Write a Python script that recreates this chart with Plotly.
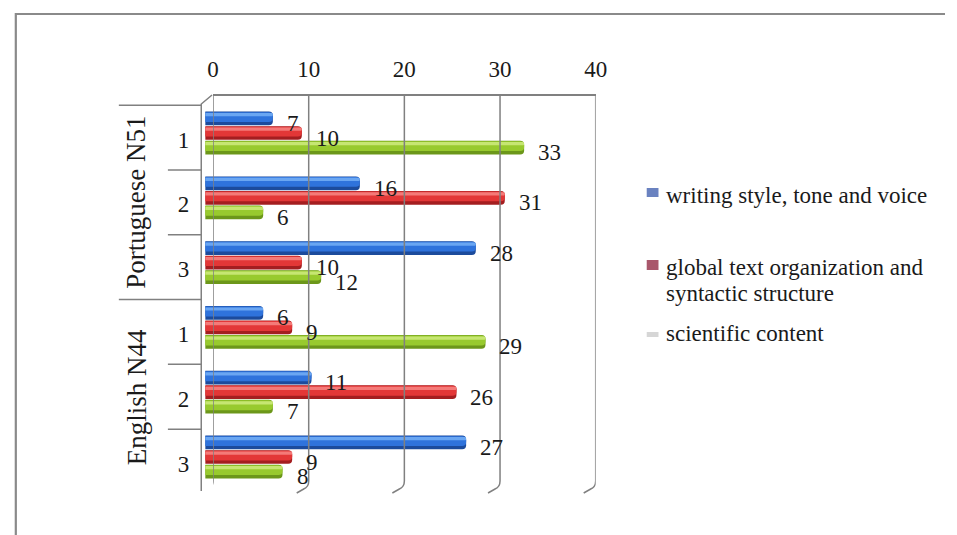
import plotly.graph_objects as go

# ---- data -------------------------------------------------------------
groups = ["Portuguese N51", "English N44"]
subcats = ["1", "2", "3"]
series_names = [
    "writing style, tone and voice",
    "global text organization and",
    "scientific content",
]
writing_style = [7, 16, 28, 6, 11, 27]
global_org = [10, 31, 10, 9, 26, 9]
scientific = [33, 6, 12, 29, 7, 8]
x_ticks = [0, 10, 20, 30, 40]

# ---- page geometry helpers (figure has no margins) ----------------------
W, H = 957, 535


def fx(p):
    return p / W


def fy(p):
    return 1 - p / H


FONT = "Liberation Serif, Times New Roman, serif"
TXT = "#1a1a1a"
GRID = "#808080"
FS = 23

rows = list(range(len(writing_style)))          # P1, P2, P3, E1, E2, E3
offsets = [-0.224, 0.0, 0.224]                   # blue above, green below
series = [writing_style, global_org, scientific]

# dark edge / body / highlight for the cylinder look
palettes = [
    ("#1c4b9c", "#2f73dc", "#6aa6f2"),
    ("#a41e20", "#e33737", "#f47a78"),
    ("#6c971a", "#98ca2e", "#c6e672"),
]
layers = [(0.212, 0.0, 0), (0.152, -0.022, 1), (0.05, -0.06, 2)]

fig = go.Figure()
for vals, off, pal in zip(series, offsets, palettes):
    for width, shift, ci in layers:
        fig.add_trace(go.Bar(
            x=vals,
            y=[r + off + shift for r in rows],
            orientation="h",
            width=width,
            marker=dict(color=pal[ci], line=dict(width=0), cornerradius=4),
            showlegend=False,
            hoverinfo="skip",
        ))

annotations = []
# value labels beside each bar end
for vals, off in zip(series, offsets):
    for r, v in zip(rows, vals):
        annotations.append(dict(
            x=v, y=r + off, xref="x", yref="y", text=str(v),
            showarrow=False, xanchor="left", yanchor="middle",
            xshift=12, yshift=-5,
            font=dict(family=FONT, size=FS, color=TXT),
        ))

# rotated group labels
for gi, g in enumerate(groups):
    annotations.append(dict(
        x=fx(133), y=gi * 3 + 1 + 0.07, xref="paper", yref="y", text=g,
        showarrow=False, textangle=-90, xanchor="center", yanchor="middle",
        font=dict(family=FONT, size=27, color=TXT),
    ))

# legend
legend_marks = [
    ("#6a82c0", 188, 197),
    ("#a9576b", 260, 270),
    ("#d6d6d6", 332, 337),
]
legend_text = [
    (series_names[0], 196),
    (series_names[1], 267),
    ("syntactic structure", 293),
    (series_names[2], 333),
]
for t, yc in legend_text:
    annotations.append(dict(
        x=fx(671), y=fy(yc), xref="paper", yref="paper", text=t,
        showarrow=False, xanchor="left", yanchor="middle",
        font=dict(family=FONT, size=FS, color=TXT),
    ))

shapes = []
for col, y0, y1 in legend_marks:
    shapes.append(dict(type="rect", xref="paper", yref="paper",
                       x0=fx(653), x1=fx(665), y0=fy(y1), y1=fy(y0),
                       fillcolor=col, line=dict(width=0)))

# outer frame (top and left edges)
shapes.append(dict(type="path", xref="paper", yref="paper",
                   path=f"M{fx(10)},{fy(535)} L{fx(10)},{fy(14)} L{fx(957)},{fy(14)}",
                   line=dict(color="#8a8a8a", width=2.2)))

# category separators on the left
for b in [-0.5, 2.5, 5.5]:
    shapes.append(dict(type="line", xref="paper", yref="y",
                       x0=fx(115), x1=fx(199), y0=b + 0.07, y1=b + 0.07,
                       line=dict(color=GRID, width=1.5)))
for b in [0.5, 1.5, 3.5, 4.5]:
    shapes.append(dict(type="line", xref="paper", yref="y",
                       x0=fx(165), x1=fx(199), y0=b + 0.07, y1=b + 0.07,
                       line=dict(color=GRID, width=1.5)))

# front-left edge of the wall with its top corner
shapes.append(dict(type="path", xref="paper", yref="paper",
                   path=(f"M{fx(199)},{fy(491)} L{fx(199)},{fy(104)} "
                         f"L{fx(210)},{fy(95)}"),
                   line=dict(color=GRID, width=1.5)))

# gridlines on the back wall, bending forward at the floor
for v in x_ticks:
    shapes.append(dict(
        type="path", xref="x2", yref="paper", xsizemode="pixel", xanchor=v,
        path=(f"M0,{fy(95)} L0,{fy(481)} Q0,{fy(487)} -5,{fy(489)} "
              f"L-12,{fy(493)}"),
        line=dict(color=GRID, width=1.5),
    ))

fig.update_layout(
    width=W, height=H,
    margin=dict(l=0, r=0, t=0, b=0),
    paper_bgcolor="white", plot_bgcolor="rgba(0,0,0,0)",
    barmode="overlay",
    showlegend=False,
    xaxis=dict(domain=[fx(203), fx(597)], range=[0, 40],
               showgrid=False, zeroline=False, showline=False,
               showticklabels=False, ticks=""),
    xaxis2=dict(domain=[fx(211), fx(601)], range=[0, 40], side="top",
                anchor="free", position=fy(95),
                tickvals=x_ticks, ticktext=[str(t) for t in x_ticks],
                showgrid=False, zeroline=False, showline=True,
                linecolor=GRID, linewidth=1.5, ticks="",
                ticklabelstandoff=8,
                tickfont=dict(family=FONT, size=FS, color=TXT)),
    yaxis=dict(domain=[fy(489.4), fy(100.6)], range=[5.5, -0.5],
               tickvals=[r + 0.1 for r in rows], ticktext=subcats * 2,
               showgrid=False, zeroline=False, showline=False, ticks="",
               ticklabelstandoff=15,
               tickfont=dict(family=FONT, size=FS, color=TXT)),
    annotations=annotations,
    shapes=shapes,
)

fig.write_html("out.html")
